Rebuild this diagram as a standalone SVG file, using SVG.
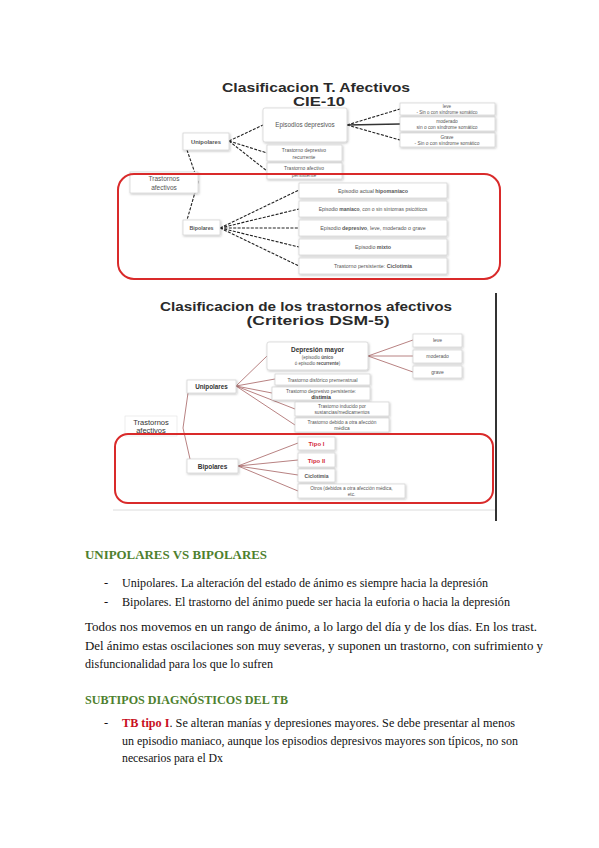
<svg xmlns="http://www.w3.org/2000/svg" width="599" height="848" viewBox="0 0 599 848">
<defs>
<filter id="sh" x="-10%" y="-10%" width="130%" height="140%"><feDropShadow dx="0.8" dy="1" stdDeviation="0.8" flood-color="#000" flood-opacity="0.25"/></filter>
<style>
.bx{fill:#fff;stroke:#d0d0d0;stroke-width:0.7;filter:url(#sh)}
.t{font-family:"Liberation Sans",Arial,sans-serif;fill:#555;text-anchor:middle}
.dk{fill:#333}
.rd{fill:#d42a3a}
.b{font-weight:bold}
.ttl{font-family:"Liberation Sans",Arial,sans-serif;font-weight:bold;fill:#2a2a2a;text-anchor:middle}
.d1{stroke:#222;stroke-width:1.1;stroke-dasharray:3 1.4;fill:none}
.d2{stroke:#b07474;stroke-width:0.9;fill:none}
.red{fill:none;stroke:#d92a2a;stroke-width:2}
.body{font-family:"Liberation Serif","Times New Roman",serif;font-size:12.5px;fill:#111}
.hd{font-family:"Liberation Serif","Times New Roman",serif;font-size:12.5px;font-weight:bold;fill:#4e7f2e}
.tb{font-weight:bold;fill:#c8101e}
</style>
</defs>
<rect width="599" height="848" fill="#fff"/>

<!-- Diagram 1: CIE-10 -->
<text class="ttl" x="316" y="92" font-size="13" textLength="188" lengthAdjust="spacingAndGlyphs">Clasificacion T. Afectivos</text>
<text class="ttl" x="319" y="106" font-size="13" textLength="52" lengthAdjust="spacingAndGlyphs">CIE-10</text>

<g id="connectors1">
<path class="d1" d="M198 182 L187 150 M198 182 L187 220"/>
<path class="d1" d="M229 141 L263 125 M229 141 L267 153 M229 141 L267 171"/>
<path class="d1" d="M347 125 L400 109 M347 125 L400 140"/>
<path d="M347 125 L400 124" stroke="#333" stroke-width="1.6"/>
<path class="d1" d="M220 228 L299 190 M220 228 L299 209 M220 228 L299 228 M220 228 L299 247 M220 228 L299 266"/>
</g>

<g id="c1-root"><rect class="bx" x="130" y="172" width="68" height="21"/><text class="t" x="164" y="181" font-size="6.5">Trastornos</text><text class="t" x="164" y="190" font-size="6.5">afectivos</text></g>
<g id="c1-unipolares"><rect class="bx" x="183" y="133" width="46" height="17"/><text class="t b" x="206" y="144" font-size="5.8">Unipolares</text></g>
<g id="c1-episodios"><rect class="bx" x="263" y="108" width="84" height="34" rx="2"/><text class="t" x="305" y="127" font-size="6.3">Episodios depresivos</text></g>
<g id="c1-recurrente"><rect class="bx" x="267" y="145" width="75" height="16"/><text class="t" x="304" y="152" font-size="5">Trastorno depresivo</text><text class="t" x="304" y="158.5" font-size="5">recurrente</text></g>
<g id="c1-afectivo"><rect class="bx" x="267" y="163" width="75" height="16"/><text class="t" x="304" y="170" font-size="5">Trastorno afectivo</text><text class="t" x="304" y="176.5" font-size="5">persistente</text></g>
<g id="c1-leve"><rect class="bx" x="400" y="103" width="95" height="12"/><text class="t" x="447" y="108.3" font-size="4.5">leve</text><text class="t" x="447" y="113.5" font-size="4.5">- Sin o con síndrome somático</text></g>
<g id="c1-moderado"><rect class="bx" x="400" y="117" width="95" height="14"/><text class="t" x="447" y="123" font-size="4.8">moderado</text><text class="t" x="447" y="129" font-size="4.8">sin o con síndrome somático</text></g>
<g id="c1-grave"><rect class="bx" x="400" y="133" width="95" height="14"/><text class="t" x="447" y="139" font-size="4.8">Grave</text><text class="t" x="447" y="145" font-size="4.8">- Sin o con síndrome somático</text></g>

<g id="c1-bipolares"><rect class="bx" x="183" y="220" width="37" height="15"/><text class="t b" x="201.5" y="230" font-size="5.3">Bipolares</text></g>
<g id="c1-hipomaniaco"><rect class="bx" x="299" y="183" width="148" height="15"/><text class="t" x="373" y="192.5" font-size="5.3">Episodio actual <tspan class="b">hipomaníaco</tspan></text></g>
<g id="c1-maniaco"><rect class="bx" x="299" y="201" width="148" height="16"/><text class="t" x="373" y="211" font-size="5">Episodio <tspan class="b">maníaco</tspan>, con o sin síntomas psicóticos</text></g>
<g id="c1-depresivo"><rect class="bx" x="299" y="220" width="148" height="16"/><text class="t" x="373" y="230" font-size="5.3">Episodio <tspan class="b">depresivo</tspan>, leve, moderado o grave</text></g>
<g id="c1-mixto"><rect class="bx" x="299" y="239" width="148" height="16"/><text class="t" x="373" y="249" font-size="5.3">Episodio <tspan class="b">mixto</tspan></text></g>
<g id="c1-ciclotimia"><rect class="bx" x="299" y="258" width="148" height="16"/><text class="t" x="373" y="268" font-size="5.3">Trastorno persistente: <tspan class="b">Ciclotimia</tspan></text></g>

<g id="c1-redframe"><rect class="red" x="118" y="174" width="382" height="105" rx="16"/></g>

<!-- Diagram 2: DSM-5 -->
<g id="frame2"><line x1="113" y1="510" x2="496" y2="510" stroke="#dcdcdc" stroke-width="1"/><line x1="496" y1="293" x2="496" y2="521" stroke="#333" stroke-width="2"/></g>
<text class="ttl" x="306" y="311" font-size="13" textLength="292" lengthAdjust="spacingAndGlyphs">Clasificacion de los trastornos afectivos</text>
<text class="ttl" x="318" y="325" font-size="13" textLength="143" lengthAdjust="spacingAndGlyphs">(Criterios DSM-5)</text>

<g id="connectors2">
<path class="d2" d="M183 428 L188 393 M183 428 L190 459"/>
<path class="d2" d="M236 386 L267 356 M236 386 L275 379 M236 386 L272 393 M236 386 L295 409 M236 386 L295 425"/>
<path class="d2" d="M368 356 L413 340 M368 356 L413 356 M368 356 L413 372"/>
<path class="d2" d="M238 466 L298 443 M238 466 L298 460 M238 466 L298 475 M238 466 L298 491"/>
</g>

<g id="c2-root"><rect x="125" y="416" width="52" height="20" fill="#fff" stroke="#e2e2e2" stroke-width="0.6"/><text class="t dk" x="151" y="425" font-size="7.5">Trastornos</text><text class="t dk" x="151" y="433" font-size="7.5">afectivos</text></g>
<g id="c2-unipolares"><rect class="bx" x="187" y="380" width="49" height="13"/><text class="t b dk" x="211.5" y="389" font-size="6.3">Unipolares</text></g>
<g id="c2-mayor"><rect class="bx" x="267" y="342" width="101" height="28" rx="2"/><text class="t b dk" x="317.5" y="351.5" font-size="6.5">Depresión mayor</text><text class="t" x="317.5" y="358.5" font-size="4.5">(episodio <tspan class="b">único</tspan></text><text class="t" x="317.5" y="365" font-size="4.5">ó episodio <tspan class="b">recurrente</tspan>)</text></g>
<g id="c2-disforico"><rect class="bx" x="275" y="374" width="95" height="11"/><text class="t" x="322.5" y="381.5" font-size="4.9">Trastorno disfórico premenstrual</text></g>
<g id="c2-distimia"><rect class="bx" x="272" y="387" width="98" height="13"/><text class="t" x="321" y="392.5" font-size="4.9">Trastorno depresivo persistente:</text><text class="t b dk" x="321" y="398.5" font-size="5.2">distimia</text></g>
<g id="c2-inducido"><rect class="bx" x="295" y="402" width="94" height="14"/><text class="t" x="342" y="408" font-size="4.8">Trastorno inducido por</text><text class="t" x="342" y="413.5" font-size="4.8">sustancias/medicamentos</text></g>
<g id="c2-debido"><rect class="bx" x="295" y="418" width="94" height="14"/><text class="t" x="342" y="424" font-size="4.8">Trastorno debido a otra afección</text><text class="t" x="342" y="429.5" font-size="4.8">médica</text></g>
<g id="c2-leve"><rect class="bx" x="413" y="334" width="49" height="13"/><text class="t" x="437.5" y="342.2" font-size="5">leve</text></g>
<g id="c2-moderado"><rect class="bx" x="413" y="350" width="49" height="13"/><text class="t" x="437.5" y="358.2" font-size="5">moderado</text></g>
<g id="c2-grave"><rect class="bx" x="413" y="366" width="49" height="12"/><text class="t" x="437.5" y="373.8" font-size="5">grave</text></g>

<g id="c2-bipolares"><rect class="bx" x="187" y="459" width="51" height="14"/><text class="t b dk" x="212.5" y="468.5" font-size="6.5">Bipolares</text></g>
<g id="c2-tipo1"><rect class="bx" x="298" y="437" width="37" height="13"/><text class="t b rd" x="316.5" y="446" font-size="6">Tipo I</text></g>
<g id="c2-tipo2"><rect class="bx" x="298" y="453" width="37" height="14"/><text class="t b rd" x="316.5" y="462.5" font-size="6">Tipo II</text></g>
<g id="c2-ciclotimia"><rect class="bx" x="298" y="469" width="37" height="13"/><text class="t b" x="316.5" y="477.5" font-size="5">Ciclotimia</text></g>
<g id="c2-otros"><rect class="bx" x="298" y="484" width="107" height="14"/><text class="t" x="351.5" y="490" font-size="4.8">Otros (debidos a otra afección médica,</text><text class="t" x="351.5" y="496" font-size="4.8">etc.</text></g>

<g id="c2-redframe"><rect class="red" x="115" y="434" width="378" height="69" rx="13"/></g>

<!-- Text -->
<text class="hd" x="85" y="559" textLength="182" lengthAdjust="spacingAndGlyphs">UNIPOLARES VS BIPOLARES</text>
<text class="body" x="104" y="587">-</text>
<text class="body" x="122" y="587" textLength="366" lengthAdjust="spacingAndGlyphs">Unipolares. La alteración del estado de ánimo es siempre hacia la depresión</text>
<text class="body" x="104" y="606">-</text>
<text class="body" x="122" y="606" textLength="388" lengthAdjust="spacingAndGlyphs">Bipolares. El trastorno del ánimo puede ser hacia la euforia o hacia la depresión</text>
<text class="body" x="85" y="631" textLength="452" lengthAdjust="spacingAndGlyphs">Todos nos movemos en un rango de ánimo, a lo largo del día y de los días. En los trast.</text>
<text class="body" x="85" y="650" textLength="458" lengthAdjust="spacingAndGlyphs">Del ánimo estas oscilaciones son muy severas, y suponen un trastorno, con sufrimiento y</text>
<text class="body" x="85" y="668" textLength="188" lengthAdjust="spacingAndGlyphs">disfuncionalidad para los que lo sufren</text>

<text class="hd" x="85" y="704" textLength="203" lengthAdjust="spacingAndGlyphs">SUBTIPOS DIAGNÓSTICOS DEL TB</text>
<text class="body" x="104" y="727">-</text>
<text class="body" x="122" y="727" textLength="393" lengthAdjust="spacingAndGlyphs"><tspan class="tb">TB tipo I</tspan>. Se alteran manías y depresiones mayores. Se debe presentar al menos</text>
<text class="body" x="122" y="745" textLength="396" lengthAdjust="spacingAndGlyphs">un episodio maniaco, aunque los episodios depresivos mayores son típicos, no son</text>
<text class="body" x="122" y="762" textLength="101" lengthAdjust="spacingAndGlyphs">necesarios para el Dx</text>
</svg>
